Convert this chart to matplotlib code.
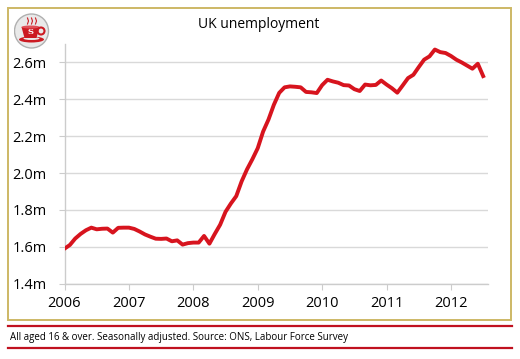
import matplotlib
matplotlib.use("Agg")
import matplotlib.pyplot as plt
from matplotlib.patches import Rectangle, Circle, Ellipse, Polygon
from matplotlib.lines import Line2D

title = "UK unemployment"
footer = "All aged 16 & over. Seasonally adjusted. Source: ONS, Labour Force Survey"
start_year = 2006
year_labels = ["2006", "2007", "2008", "2009", "2010", "2011", "2012"]
y_ticks = [1.4, 1.6, 1.8, 2.0, 2.2, 2.4, 2.6]
y_labels = ["1.4m", "1.6m", "1.8m", "2.0m", "2.2m", "2.4m", "2.6m"]

# Monthly unemployment (millions), Jan 2006 onwards
unemployment = [
    1.59, 1.61, 1.645, 1.67, 1.69, 1.704, 1.695, 1.698, 1.699, 1.677, 1.703, 1.704,
    1.704, 1.697, 1.683, 1.667, 1.655, 1.644, 1.643, 1.645, 1.630, 1.635, 1.612, 1.62,
    1.623, 1.623, 1.659, 1.617, 1.67, 1.72, 1.79, 1.835, 1.875, 1.955, 2.02, 2.075,
    2.135, 2.225, 2.29, 2.37, 2.435, 2.465, 2.47, 2.468, 2.465, 2.44, 2.438, 2.434,
    2.477, 2.506, 2.497, 2.49, 2.477, 2.475, 2.455, 2.445, 2.48, 2.476, 2.478, 2.502,
    2.48, 2.46, 2.436, 2.475, 2.515, 2.533, 2.575, 2.615, 2.633, 2.67, 2.656, 2.651,
    2.635, 2.615, 2.60, 2.583, 2.566, 2.593, 2.526,
]

W, H = 520, 359
fig = plt.figure(figsize=(W / 100, H / 100), dpi=100)
fig.patch.set_facecolor("white")
FONT = "Open Sans"

def fx(px):
    return px / W

def fy(py):
    return 1 - py / H

# gold frame
fig.patches.append(Rectangle((fx(8), fy(320)), fx(511) - fx(8), fy(8) - fy(320),
                             transform=fig.transFigure, fill=False,
                             edgecolor="#cdb865", linewidth=1.4))
# red rules
for yy in (325.8, 348.2):
    fig.add_artist(Line2D([fx(8), fx(512)], [fy(yy), fy(yy)], transform=fig.transFigure,
                          color="#c0111f", linewidth=1.6))

ax = fig.add_axes([fx(64.5), fy(283.7), fx(488) - fx(64.5), fy(44) - fy(283.7)])
months = list(range(len(unemployment)))
ax.plot(months, unemployment, color="#d7141e", linewidth=2.8, solid_joinstyle="round", zorder=3)

ax.set_xlim(0, 78.9)
ax.set_ylim(1.4, 2.7)
ax.set_xticks([12 * i for i in range(len(year_labels))])
ax.set_xticklabels(year_labels, fontsize=10.5, family=FONT)
ax.set_yticks(y_ticks)
ax.set_yticklabels(y_labels, fontsize=10.5, family=FONT)
ax.grid(axis="y", color="#d9d9d9", linewidth=1.0)
ax.set_axisbelow(True)
for s in ("top", "right"):
    ax.spines[s].set_visible(False)
for s in ("left", "bottom"):
    ax.spines[s].set_color("#cccccc")
    ax.spines[s].set_linewidth(1.0)
ax.tick_params(axis="y", length=4, color="#cccccc", pad=9)
ax.tick_params(axis="x", length=4, color="#cccccc", pad=5)
ax.set_facecolor("white")

fig.text(fx(259), fy(25), title, ha="center", va="center", fontsize=10, family=FONT)
fig.text(fx(10), fy(337.5), footer, ha="left", va="center", fontsize=7, family=FONT)

# logo
cx, cy = 31.5, 31
logo_ax = fig.add_axes([fx(cx - 18), fy(cy + 18), 36 / W, 36 / H])
logo_ax.set_xlim(-18, 18)
logo_ax.set_ylim(-18, 18)
logo_ax.axis("off")
logo_ax.add_patch(Circle((0, 0), 17, facecolor="#e9e9e9", edgecolor="#b0b0b0", linewidth=1.0))
logo_ax.add_patch(Ellipse((0, -8.5), 25, 6, facecolor="#cc1a22"))
logo_ax.add_patch(Ellipse((0, -7.5), 16, 3, facecolor="#e9e9e9"))
logo_ax.add_patch(Polygon([(-10, 4), (8, 4), (5, -7), (-7, -7)], closed=True, facecolor="#cc1a22"))
logo_ax.add_patch(Ellipse((-1, 4), 18, 3, facecolor="#e05058"))
logo_ax.add_patch(Ellipse((9.5, 0), 7, 7, facecolor="none", edgecolor="#cc1a22", linewidth=1.5))
logo_ax.text(-1, -1.5, "S", ha="center", va="center", fontsize=6, color="white",
             fontweight="bold", family="DejaVu Serif")
for dx in (-4, 0, 4):
    logo_ax.plot([dx, dx + 1, dx], [7, 10, 13], color="#cc1a22", linewidth=0.8)

fig.savefig("out.png", dpi=100)
